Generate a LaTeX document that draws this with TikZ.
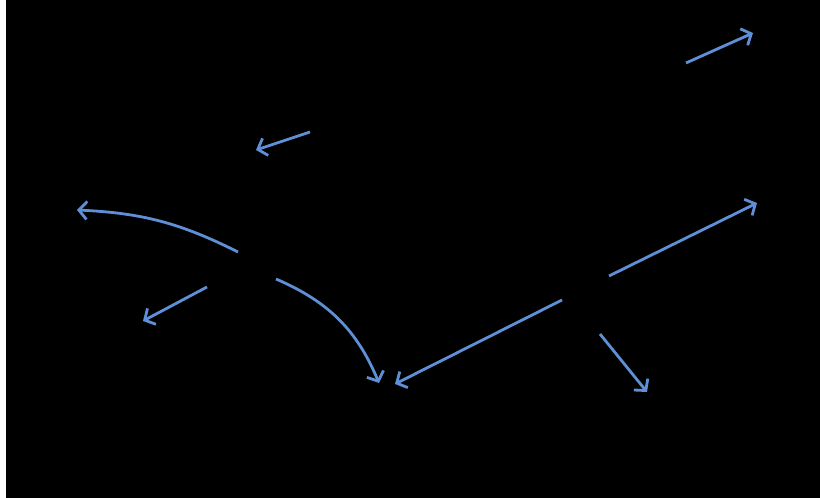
\documentclass[tikz,border=0pt]{standalone}
\usepackage{xcolor}
\usepackage{tikz}
\usetikzlibrary{arrows.meta}
\definecolor{flowblue}{HTML}{5F8FD6}

\begin{document}
\begin{tikzpicture}[x=1pt, y=1pt,
    flow/.style={draw=flowblue, line width=2.8pt,
                 -{Straight Barb[length=8pt, width=18pt]}}]
    % slide area
    \fill[white] (0,0) rectangle (820,498);
    \fill[black] (6,0) rectangle (820,498);
    \useasboundingbox (0,0) rectangle (820,498);

    % end points of the arrows
    \coordinate (topFrom)   at (686,435);
    \coordinate (topTo)     at (753,465);
    \coordinate (upFrom)    at (310,366);
    \coordinate (upTo)      at (256,348);
    \coordinate (leftFrom)  at (238,246);
    \coordinate (leftTo)    at (77,288);
    \coordinate (lowFrom)   at (207,211);
    \coordinate (lowTo)     at (143,177);
    \coordinate (curveFrom) at (276,219);
    \coordinate (curveTo)   at (379,115);
    \coordinate (backFrom)  at (562,198);
    \coordinate (backTo)    at (395,114);
    \coordinate (rightFrom) at (609,222);
    \coordinate (rightTo)   at (757,295);
    \coordinate (downFrom)  at (600,164);
    \coordinate (downTo)    at (647,106);

    \draw[flow] (topFrom) -- (topTo);
    \draw[flow] (upFrom) -- (upTo);
    \draw[flow] (leftFrom) to[bend right=12] (leftTo);
    \draw[flow] (lowFrom) -- (lowTo);
    \draw[flow] (curveFrom) to[bend left=22] (curveTo);
    \draw[flow] (backFrom) -- (backTo);
    \draw[flow] (rightFrom) -- (rightTo);
    \draw[flow] (downFrom) -- (downTo);
\end{tikzpicture}
\end{document}
